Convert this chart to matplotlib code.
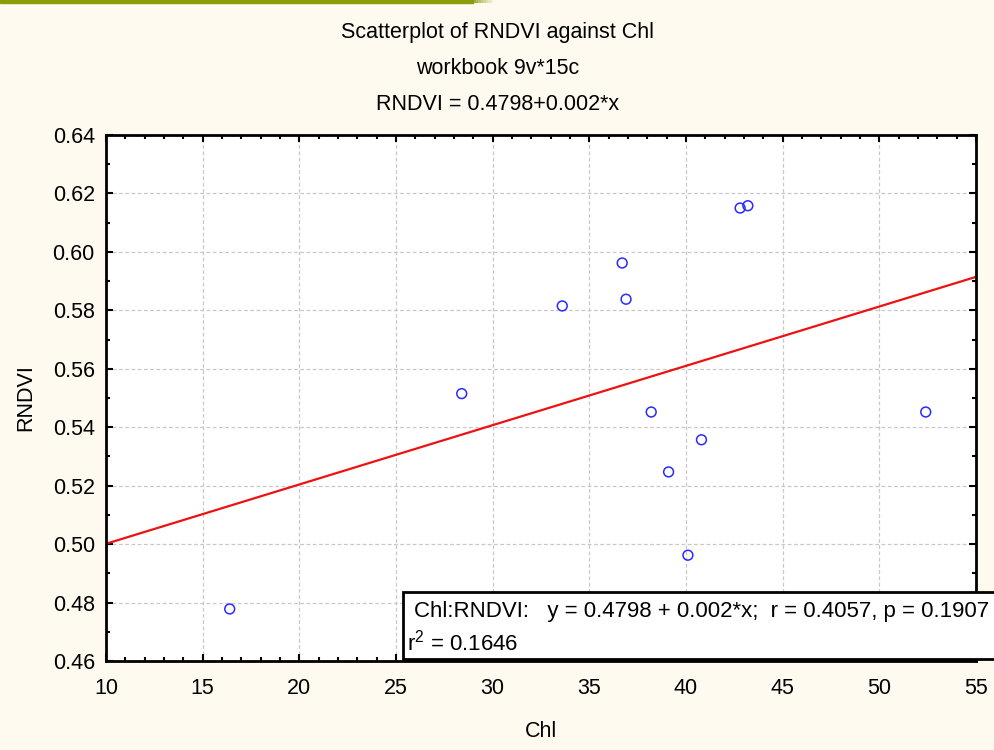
import numpy as np
import matplotlib.pyplot as plt
from matplotlib.patches import Rectangle
from matplotlib.ticker import MultipleLocator

# data
chl = [16.4, 28.4, 33.6, 36.7, 36.9, 38.2, 39.1, 40.1, 40.8, 42.8, 43.2, 52.4]
rndvi = [0.4778, 0.5515, 0.5815, 0.5962, 0.5838, 0.5452, 0.5247, 0.4962, 0.5357, 0.6150, 0.6158, 0.5452]
intercept = 0.4798
slope = 0.00203

title_lines = ["Scatterplot of RNDVI against Chl", "workbook 9v*15c", "RNDVI = 0.4798+0.002*x"]
box_line1 = "Chl:RNDVI:   y = 0.4798 + 0.002*x;  r = 0.4057, p = 0.1907"
box_line2 = "r$^2$ = 0.1646"

plt.rcParams['font.family'] = ['Liberation Sans', 'DejaVu Sans']
plt.rcParams['mathtext.fontset'] = 'custom'
plt.rcParams['mathtext.rm'] = 'Liberation Sans'

fs = 15.5
bg = '#fefaf0'
fig = plt.figure(figsize=(9.94, 7.5), dpi=100, facecolor=bg)

# olive strip in the top-left corner
fig.patches.append(Rectangle((0, 0.996), 0.476, 0.004, transform=fig.transFigure,
                             color='#8e9c0c', zorder=0))
for i, a in enumerate(np.linspace(0.8, 0.1, 8)):
    fig.patches.append(Rectangle((0.476 + i * 0.0025, 0.996), 0.0025, 0.004,
                                 transform=fig.transFigure, color='#8e9c0c', alpha=a,
                                 lw=0, zorder=0))

ax = fig.add_axes([0.1066, 0.1187, 0.8753, 0.7013])
ax.set_facecolor('white')

ax.scatter(chl, rndvi, s=50, facecolors='none', edgecolors='#2a2aff', linewidths=1.1, zorder=3)
xx = np.array([10, 55])
ax.plot(xx, intercept + slope * xx, color='#ee1111', lw=1.6, zorder=2)

ax.set_xlim(10, 55)
ax.set_ylim(0.46, 0.64)
ax.xaxis.set_major_locator(MultipleLocator(5))
ax.xaxis.set_minor_locator(MultipleLocator(1))
ax.yaxis.set_major_locator(MultipleLocator(0.02))
ax.yaxis.set_minor_locator(MultipleLocator(0.01))
ax.yaxis.set_major_formatter(plt.FormatStrFormatter('%.2f'))
ax.tick_params(which='both', direction='in', top=True, right=True, labelsize=fs,
               width=1.5, color='black')
ax.tick_params(which='major', length=5)
ax.tick_params(which='minor', length=3)
ax.tick_params(axis='x', which='major', pad=12)
ax.tick_params(axis='y', which='major', pad=8)
ax.grid(True, which='major', color='#c8c8c8', linestyle=(0, (3, 2)), lw=0.9)
for s in ax.spines.values():
    s.set_linewidth(2)

ax.set_xlabel("Chl", fontsize=fs, labelpad=16)
ax.set_ylabel("RNDVI", fontsize=fs, labelpad=12)

for y, t in zip([0.957, 0.908, 0.861], title_lines):
    fig.text(0.501, y, t, ha='center', va='center', fontsize=fs)

# statistics box (runs off the right edge like the original)
fig.patches.append(Rectangle((0.405, 0.122), 0.62, 0.089, transform=fig.transFigure,
                             facecolor='white', edgecolor='black', lw=2, zorder=5))
fig.text(0.416, 0.184, box_line1, fontsize=16, va='center', zorder=6)
fig.text(0.409, 0.143, box_line2, fontsize=16, va='center', zorder=6)

fig.savefig('out.png', dpi=100, facecolor=bg)
